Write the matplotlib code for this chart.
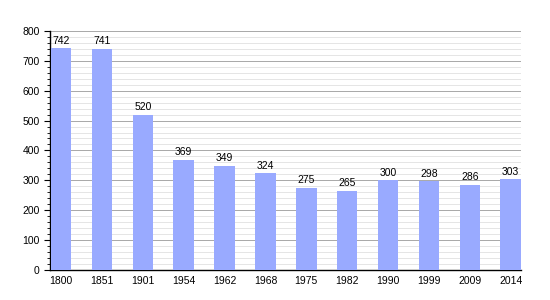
import matplotlib
matplotlib.use("Agg")
import matplotlib.pyplot as plt
from matplotlib.ticker import MultipleLocator

years = ["1800", "1851", "1901", "1954", "1962", "1968", "1975", "1982", "1990", "1999", "2009", "2014"]
population = [742, 741, 520, 369, 349, 324, 275, 265, 300, 298, 286, 303]

plt.rcParams['font.family'] = ['Liberation Sans', 'DejaVu Sans']
fig = plt.figure(figsize=(5.5, 3.0), dpi=100)
ax = fig.add_axes([0.091, 0.1, 0.856, 0.797])

x = list(range(len(years)))
ax.bar(x, population, width=0.5, color="#99aaff", zorder=3)
for xi, v in zip(x, population):
    ax.text(xi, v + 8, str(v), ha="center", va="bottom", fontsize=7.5, zorder=4)

ax.set_xlim(-0.27, 11.25)
ax.set_ylim(0, 800)
ax.set_xticks(x)
ax.set_xticklabels(years, fontsize=7.5)
ax.yaxis.set_major_locator(MultipleLocator(100))
ax.yaxis.set_minor_locator(MultipleLocator(20))
ax.tick_params(axis="y", labelsize=7.5, length=4, width=0.8)
ax.tick_params(axis="y", which="minor", length=2, width=0.6)
ax.tick_params(axis="x", length=0, pad=4)
ax.grid(axis="y", which="major", color="#a8a8a8", linewidth=0.7, zorder=0)
ax.grid(axis="y", which="minor", color="#e0e0e0", linewidth=0.6, zorder=0)
for s in ["top", "right"]:
    ax.spines[s].set_visible(False)
for s in ["left", "bottom"]:
    ax.spines[s].set_linewidth(1.0)
fig.savefig("out.png", dpi=100)
